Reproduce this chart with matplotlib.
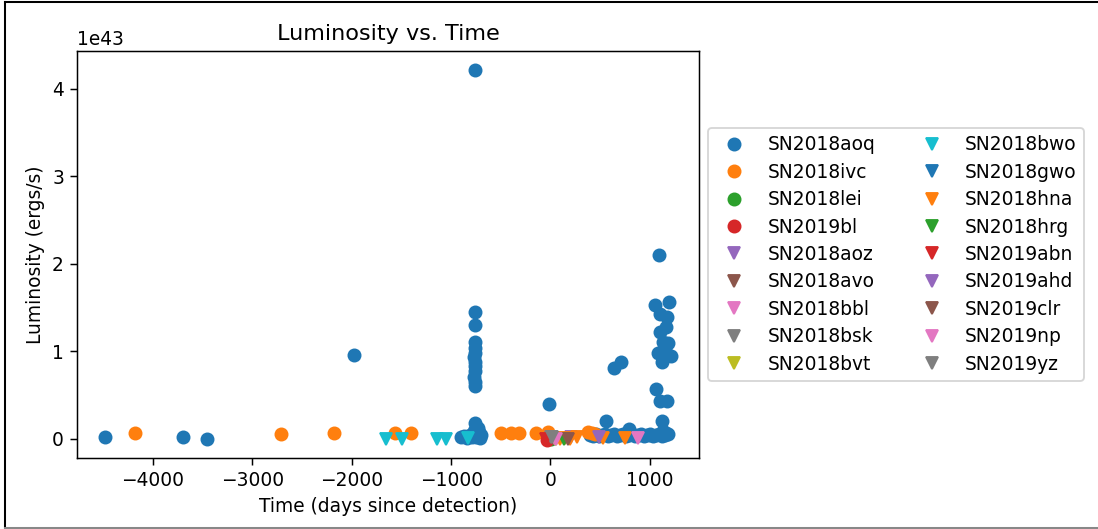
import matplotlib.pyplot as plt
from matplotlib.lines import Line2D

# luminosity values are in units of 1e43 erg/s
names = ["SN2018aoq", "SN2018ivc", "SN2018lei", "SN2019bl",
         "SN2018aoz", "SN2018avo", "SN2018bbl", "SN2018bsk", "SN2018bvt",
         "SN2018bwo", "SN2018gwo", "SN2018hna", "SN2018hrg", "SN2019abn",
         "SN2019ahd", "SN2019clr", "SN2019np", "SN2019yz"]
markers = ["o"] * 4 + ["v"] * 14

aoq_t = [-4480, -3700, -3460, -1980,
         -760, -760, -760, -760, -755, -760, -765, -760, -755, -760, -765, -760, -760,
         -760, -750, -770, -760, -745,
         -900, -870, -840, -810, -790, -770, -740, -720, -700, -710, -730,
         -10, 560, 640, 710, 790,
         400, 430, 460, 490, 520, 550, 580, 610, 640, 670, 700, 730, 760, 790,
         820, 850, 880, 910, 940, 970, 1000, 1030, 1060, 1090, 1120, 1150, 1180,
         1090, 1050, 1190, 1100, 1170, 1160, 1100, 1130, 1180, 1080, 1210, 1120,
         1150, 1140, 1060, 1100, 1170, 1120, 1130, 1160]
aoq_L = [0.02, 0.02, 0.0, 0.96,
         4.22, 1.45, 1.30, 1.10, 1.04, 0.98, 0.93, 0.88, 0.83, 0.77, 0.71, 0.65, 0.60,
         0.18, 0.13, 0.09, 0.05, 0.02,
         0.02, 0.03, 0.01, 0.04, 0.02, 0.06, 0.03, 0.08, 0.04, 0.01, 0.12,
         0.40, 0.20, 0.81, 0.88, 0.11,
         0.04, 0.03, 0.05, 0.03, 0.04, 0.05, 0.03, 0.04, 0.05, 0.03, 0.04, 0.05, 0.03, 0.04,
         0.05, 0.03, 0.04, 0.05, 0.03, 0.04, 0.05, 0.03, 0.04, 0.05, 0.03, 0.04, 0.05,
         2.10, 1.53, 1.56, 1.43, 1.39, 1.28, 1.22, 1.11, 1.09, 0.98, 0.94, 0.88,
         1.02, 0.95, 0.57, 0.43, 0.43, 0.20, 0.09, 0.06]

ivc_t = [-4180, -2710, -2180, -1560, -1400, -500, -400, -320, -150, -20, 380, 420, 450]
ivc_L = [0.06, 0.05, 0.06, 0.06, 0.06, 0.07, 0.07, 0.07, 0.06, 0.08, 0.08, 0.07, 0.05]

lei_t, lei_L = [10], [0.0]
bl_t, bl_L = [-30], [-0.01]
aoz_t, aoz_L = [210], [0.02]
avo_t, avo_L = [30], [0.01]
bbl_t, bbl_L = [45], [0.0]
bsk_t, bsk_L = [5], [0.02]
bvt_t, bvt_L = [60], [0.0]
bwo_t = [-1660, -1490, -1140, -1050, -830]
bwo_L = [0.0, 0.0, 0.0, 0.0, 0.01]
gwo_t, gwo_L = [600, 900, 1000], [0.03, 0.03, 0.03]
hna_t = [100, 150, 200, 270, 530, 750]
hna_L = [0.0, 0.01, 0.0, 0.02, 0.01, 0.01]
hrg_t, hrg_L = [140], [0.0]
abn_t, abn_L = [-45], [0.0]
ahd_t, ahd_L = [485], [0.02]
clr_t, clr_L = [180], [0.0]
np_t, np_L = [60, 880], [0.0, 0.01]
yz_t, yz_L = [15], [0.02]

series = [(aoq_t, aoq_L), (ivc_t, ivc_L), (lei_t, lei_L), (bl_t, bl_L),
          (aoz_t, aoz_L), (avo_t, avo_L), (bbl_t, bbl_L), (bsk_t, bsk_L), (bvt_t, bvt_L),
          (bwo_t, bwo_L), (gwo_t, gwo_L), (hna_t, hna_L), (hrg_t, hrg_L), (abn_t, abn_L),
          (ahd_t, ahd_L), (clr_t, clr_L), (np_t, np_L), (yz_t, yz_L)]

W, H, DPI = 1098, 529, 134
fig = plt.figure(figsize=(W / DPI, H / DPI), dpi=DPI)
ax = fig.add_axes([77 / W, 1 - 458 / H, (699 - 77) / W, (458 - 51) / H])

for i, (name, mk, (t, L)) in enumerate(zip(names, markers, series)):
    ax.plot(t, [v * 1e43 for v in L], mk, color="C{}".format(i % 10),
            markersize=6.5, label=name)

ax.set_title("Luminosity vs. Time")
ax.set_xlabel("Time (days since detection)")
ax.set_ylabel("Luminosity (ergs/s)")
ax.legend(loc="center left", bbox_to_anchor=(1, 0.5), ncol=2, labelspacing=0.45)

# screenshot frame
fig.add_artist(Line2D([5 / W, 1], [1 - 2 / H, 1 - 2 / H], color="black", lw=1.1))
fig.add_artist(Line2D([5 / W, 5 / W], [0, 1 - 2 / H], color="black", lw=1.1))
fig.add_artist(Line2D([5 / W, 1], [1.5 / H, 1.5 / H], color="#888888", lw=1.1))

fig.savefig("out.png", dpi=DPI)
